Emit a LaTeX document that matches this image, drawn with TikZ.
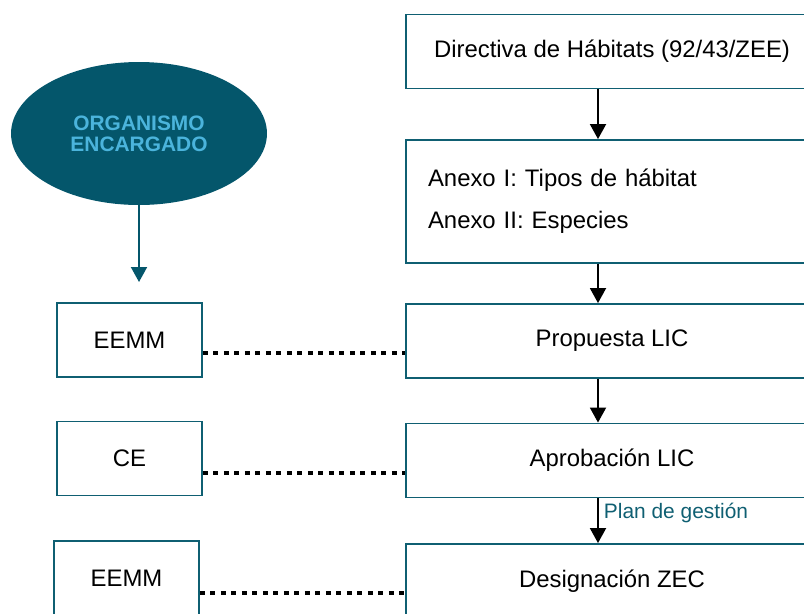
\documentclass[tikz,border=0pt]{standalone}
\usepackage{fontspec}
\setmainfont{Liberation Sans}
\usetikzlibrary{shapes.geometric,arrows.meta}

\definecolor{petrol}{HTML}{04566B}
\definecolor{celeste}{HTML}{4BB4DC}
\definecolor{borde}{HTML}{0F5F72}

\begin{document}
\begin{tikzpicture}[x=0.02cm,y=-0.02cm,
  caja/.style={draw=borde,line width=1.1pt,fill=white,inner sep=0pt,
    font=\fontsize{13.6pt}{16pt}\selectfont},
  grande/.style={caja,minimum width=8.24cm,minimum height=1.48cm},
  chica/.style={caja,minimum width=2.9cm,minimum height=1.48cm},
  flecha/.style={-{Triangle[width=0.32cm,length=0.3cm]},line width=1.1pt},
  punteada/.style={line width=2.4pt,dash pattern=on 0.1cm off 0.11cm}]
 \useasboundingbox (0,0) rectangle (804,613);
 \clip (0,0) rectangle (804,613);

 \node[grande] (directiva) at (612,51.5) {Directiva de Hábitats (92/43/ZEE)};
 \node[grande,minimum height=2.46cm,text width=7.36cm,align=left,
   font=\fontsize{13.6pt}{23.8pt}\selectfont] (anexos) at (612,201.5)
   {Anexo I: Tipos de hábitat\\Anexo II: Especies};
 \node[grande] (propuesta) at (612,341) {Propuesta LIC};
 \node[grande] (aprobacion) at (612,460.5) {Aprobación LIC};
 \node[grande] (designacion) at (612,581) {Designación ZEC};

 \node[ellipse,fill=petrol,inner sep=0pt,minimum width=5.12cm,minimum height=2.86cm,
   align=center,text=celeste,font=\bfseries\fontsize{11.9pt}{12pt}\selectfont]
   (organismo) at (139,133.5) {ORGANISMO\\ENCARGADO};
 \coordinate (punta) at (139,282);

 \node[chica] (eemm1) at (129.5,340) {EEMM};
 \node[chica] (ce) at (129.5,458.5) {CE};
 \node[chica] (eemm2) at (126.5,578) {EEMM};

 \coordinate (eje) at (598,0);

 \draw[flecha,draw=petrol,fill=petrol] (organismo.south) -- (punta);
 \draw[flecha] (directiva.south -| eje) -- (anexos.north -| eje);
 \draw[flecha] (anexos.south -| eje) -- (propuesta.north -| eje);
 \draw[flecha] (propuesta.south -| eje) -- (aprobacion.north -| eje);
 \draw[flecha] (aprobacion.south -| eje) -- (designacion.north -| eje)
   node[pos=0.32,right,inner sep=0.1cm,text=borde,
     font=\fontsize{11.9pt}{12pt}\selectfont] (plan) {Plan de gestión};

 \draw[punteada] ([yshift=-0.26cm]eemm1.east) -- ([yshift=-0.26cm]eemm1.east -| propuesta.west);
 \draw[punteada] ([yshift=-0.29cm]ce.east) -- ([yshift=-0.29cm]ce.east -| aprobacion.west);
 \draw[punteada] ([yshift=-0.3cm]eemm2.east) -- ([yshift=-0.3cm]eemm2.east -| designacion.west);
\end{tikzpicture}
\end{document}
